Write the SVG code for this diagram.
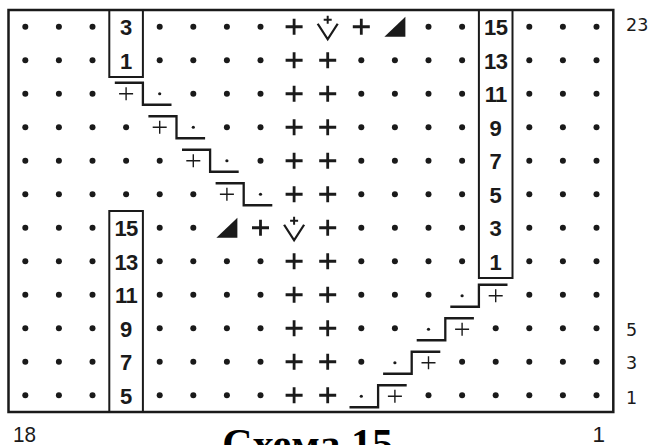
<svg xmlns="http://www.w3.org/2000/svg" width="653" height="445" viewBox="0 0 653 445">
<style>
.ink{fill:#1a1a1a}
.ln{fill:none;stroke:#1a1a1a;stroke-linecap:butt}
.frame{fill:none;stroke:#1a1a1a;stroke-width:2.5}
.box{fill:none;stroke:#1a1a1a;stroke-width:2}
.step{fill:none;stroke:#1a1a1a;stroke-width:2.3}
.num{font-family:"Liberation Sans",Arial,sans-serif;font-weight:bold;font-size:22px;fill:#1a1a1a;text-anchor:middle}
.num2{letter-spacing:-0.6px}
.lbl{font-family:"DejaVu Sans","Liberation Sans",sans-serif;font-size:17.5px;fill:#1a1a1a}
.blbl{font-family:"Liberation Sans",Arial,sans-serif;font-size:22.5px;fill:#1a1a1a}
.title{font-family:"Liberation Serif","Times New Roman",serif;font-weight:bold;font-size:42px;fill:#000;text-anchor:middle}
</style>
<defs>
<circle id="d" class="ink" r="3"/>
<circle id="sd" class="ink" r="1.6"/>
<path id="p" class="ln" stroke-width="2.8" d="M-8.5 0H8.5M0 -8V8"/>
<path id="sp" class="ln" stroke-width="1.4" d="M-7 0H7M0 -6.5V6.5"/>
<g id="v"><path class="ln" stroke-width="2.3" stroke-linejoin="miter" d="M-10 -3L0 12.5L10 -3"/><path class="ln" stroke-width="2" d="M-4 -7H4M0 -11V-3"/></g>
<path id="t" class="ink" d="M-10.5 10H10.5V-10Z"/>
</defs>
<rect width="653" height="445" fill="#fff"/>
<rect class="frame" x="8.5" y="10" width="604.8" height="402"/>
<g id="boxes">
<rect class="box" x="109.3" y="10" width="33.6" height="67"/>
<rect class="box" x="109.3" y="211" width="33.6" height="201"/>
<rect class="box" x="478.9" y="10" width="33.6" height="268"/>
</g>
<g id="steps">
<polyline class="step" points="114.8,82.75 142.9,82.75 142.9,104.75 171.5,104.75"/>
<polyline class="step" points="148.4,116.25 176.5,116.25 176.5,138.25 205.1,138.25"/>
<polyline class="step" points="182,149.75 210.1,149.75 210.1,171.75 238.7,171.75"/>
<polyline class="step" points="215.6,183.25 243.7,183.25 243.7,205.25 272.3,205.25"/>
<polyline class="step" points="507.5,284.75 478.9,284.75 478.9,306.75 450.3,306.75"/>
<polyline class="step" points="473.9,318.25 445.3,318.25 445.3,340.25 416.7,340.25"/>
<polyline class="step" points="440.3,351.75 411.7,351.75 411.7,373.75 383.1,373.75"/>
<polyline class="step" points="406.7,385.25 378.1,385.25 378.1,407.25 349.5,407.25"/>
</g>
<g id="row0" transform="translate(0,26.75)">
<use href="#d" x="25.3"/><use href="#d" x="58.9"/><use href="#d" x="92.5"/><text class="num" x="126.1" y="8.3">3</text><use href="#d" x="159.7"/><use href="#d" x="193.3"/><use href="#d" x="226.9"/><use href="#d" x="260.5"/><use href="#p" x="294.1"/><use href="#v" x="327.7"/><use href="#p" x="361.3"/><use href="#t" x="394.9"/><use href="#d" x="428.5"/><use href="#d" x="462.1"/><text class="num num2" x="495.7" y="8.3">15</text><use href="#d" x="529.3"/><use href="#d" x="562.9"/><use href="#d" x="596.5"/>
</g>
<g id="row1" transform="translate(0,60.25)">
<use href="#d" x="25.3"/><use href="#d" x="58.9"/><use href="#d" x="92.5"/><text class="num" x="126.1" y="8.3">1</text><use href="#d" x="159.7"/><use href="#d" x="193.3"/><use href="#d" x="226.9"/><use href="#d" x="260.5"/><use href="#p" x="294.1"/><use href="#p" x="327.7"/><use href="#d" x="361.3"/><use href="#d" x="394.9"/><use href="#d" x="428.5"/><use href="#d" x="462.1"/><text class="num num2" x="495.7" y="8.3">13</text><use href="#d" x="529.3"/><use href="#d" x="562.9"/><use href="#d" x="596.5"/>
</g>
<g id="row2" transform="translate(0,93.75)">
<use href="#d" x="25.3"/><use href="#d" x="58.9"/><use href="#d" x="92.5"/><use href="#sp" x="126.1"/><use href="#sd" x="159.7"/><use href="#d" x="193.3"/><use href="#d" x="226.9"/><use href="#d" x="260.5"/><use href="#p" x="294.1"/><use href="#p" x="327.7"/><use href="#d" x="361.3"/><use href="#d" x="394.9"/><use href="#d" x="428.5"/><use href="#d" x="462.1"/><text class="num num2" x="495.7" y="8.3">11</text><use href="#d" x="529.3"/><use href="#d" x="562.9"/><use href="#d" x="596.5"/>
</g>
<g id="row3" transform="translate(0,127.25)">
<use href="#d" x="25.3"/><use href="#d" x="58.9"/><use href="#d" x="92.5"/><use href="#d" x="126.1"/><use href="#sp" x="159.7"/><use href="#sd" x="193.3"/><use href="#d" x="226.9"/><use href="#d" x="260.5"/><use href="#p" x="294.1"/><use href="#p" x="327.7"/><use href="#d" x="361.3"/><use href="#d" x="394.9"/><use href="#d" x="428.5"/><use href="#d" x="462.1"/><text class="num" x="495.7" y="8.3">9</text><use href="#d" x="529.3"/><use href="#d" x="562.9"/><use href="#d" x="596.5"/>
</g>
<g id="row4" transform="translate(0,160.75)">
<use href="#d" x="25.3"/><use href="#d" x="58.9"/><use href="#d" x="92.5"/><use href="#d" x="126.1"/><use href="#d" x="159.7"/><use href="#sp" x="193.3"/><use href="#sd" x="226.9"/><use href="#d" x="260.5"/><use href="#p" x="294.1"/><use href="#p" x="327.7"/><use href="#d" x="361.3"/><use href="#d" x="394.9"/><use href="#d" x="428.5"/><use href="#d" x="462.1"/><text class="num" x="495.7" y="8.3">7</text><use href="#d" x="529.3"/><use href="#d" x="562.9"/><use href="#d" x="596.5"/>
</g>
<g id="row5" transform="translate(0,194.25)">
<use href="#d" x="25.3"/><use href="#d" x="58.9"/><use href="#d" x="92.5"/><use href="#d" x="126.1"/><use href="#d" x="159.7"/><use href="#d" x="193.3"/><use href="#sp" x="226.9"/><use href="#sd" x="260.5"/><use href="#p" x="294.1"/><use href="#p" x="327.7"/><use href="#d" x="361.3"/><use href="#d" x="394.9"/><use href="#d" x="428.5"/><use href="#d" x="462.1"/><text class="num" x="495.7" y="8.3">5</text><use href="#d" x="529.3"/><use href="#d" x="562.9"/><use href="#d" x="596.5"/>
</g>
<g id="row6" transform="translate(0,227.75)">
<use href="#d" x="25.3"/><use href="#d" x="58.9"/><use href="#d" x="92.5"/><text class="num num2" x="126.1" y="8.3">15</text><use href="#d" x="159.7"/><use href="#d" x="193.3"/><use href="#t" x="226.9"/><use href="#p" x="260.5"/><use href="#v" x="294.1"/><use href="#p" x="327.7"/><use href="#d" x="361.3"/><use href="#d" x="394.9"/><use href="#d" x="428.5"/><use href="#d" x="462.1"/><text class="num" x="495.7" y="8.3">3</text><use href="#d" x="529.3"/><use href="#d" x="562.9"/><use href="#d" x="596.5"/>
</g>
<g id="row7" transform="translate(0,261.25)">
<use href="#d" x="25.3"/><use href="#d" x="58.9"/><use href="#d" x="92.5"/><text class="num num2" x="126.1" y="8.3">13</text><use href="#d" x="159.7"/><use href="#d" x="193.3"/><use href="#d" x="226.9"/><use href="#d" x="260.5"/><use href="#p" x="294.1"/><use href="#p" x="327.7"/><use href="#d" x="361.3"/><use href="#d" x="394.9"/><use href="#d" x="428.5"/><use href="#d" x="462.1"/><text class="num" x="495.7" y="8.3">1</text><use href="#d" x="529.3"/><use href="#d" x="562.9"/><use href="#d" x="596.5"/>
</g>
<g id="row8" transform="translate(0,294.75)">
<use href="#d" x="25.3"/><use href="#d" x="58.9"/><use href="#d" x="92.5"/><text class="num num2" x="126.1" y="8.3">11</text><use href="#d" x="159.7"/><use href="#d" x="193.3"/><use href="#d" x="226.9"/><use href="#d" x="260.5"/><use href="#p" x="294.1"/><use href="#p" x="327.7"/><use href="#d" x="361.3"/><use href="#d" x="394.9"/><use href="#d" x="428.5"/><use href="#sd" x="462.1" y="1"/><use href="#sp" x="495.7" y="1"/><use href="#d" x="529.3"/><use href="#d" x="562.9"/><use href="#d" x="596.5"/>
</g>
<g id="row9" transform="translate(0,328.25)">
<use href="#d" x="25.3"/><use href="#d" x="58.9"/><use href="#d" x="92.5"/><text class="num" x="126.1" y="8.3">9</text><use href="#d" x="159.7"/><use href="#d" x="193.3"/><use href="#d" x="226.9"/><use href="#d" x="260.5"/><use href="#p" x="294.1"/><use href="#p" x="327.7"/><use href="#d" x="361.3"/><use href="#d" x="394.9"/><use href="#sd" x="428.5" y="1"/><use href="#sp" x="462.1" y="1"/><use href="#d" x="495.7"/><use href="#d" x="529.3"/><use href="#d" x="562.9"/><use href="#d" x="596.5"/>
</g>
<g id="row10" transform="translate(0,361.75)">
<use href="#d" x="25.3"/><use href="#d" x="58.9"/><use href="#d" x="92.5"/><text class="num" x="126.1" y="8.3">7</text><use href="#d" x="159.7"/><use href="#d" x="193.3"/><use href="#d" x="226.9"/><use href="#d" x="260.5"/><use href="#p" x="294.1"/><use href="#p" x="327.7"/><use href="#d" x="361.3"/><use href="#sd" x="394.9" y="1"/><use href="#sp" x="428.5" y="1"/><use href="#d" x="462.1"/><use href="#d" x="495.7"/><use href="#d" x="529.3"/><use href="#d" x="562.9"/><use href="#d" x="596.5"/>
</g>
<g id="row11" transform="translate(0,395.25)">
<use href="#d" x="25.3"/><use href="#d" x="58.9"/><use href="#d" x="92.5"/><text class="num" x="126.1" y="8.3">5</text><use href="#d" x="159.7"/><use href="#d" x="193.3"/><use href="#d" x="226.9"/><use href="#d" x="260.5"/><use href="#p" x="294.1"/><use href="#p" x="327.7"/><use href="#sd" x="361.3" y="1"/><use href="#sp" x="394.9" y="1"/><use href="#d" x="428.5"/><use href="#d" x="462.1"/><use href="#d" x="495.7"/><use href="#d" x="529.3"/><use href="#d" x="562.9"/><use href="#d" x="596.5"/>
</g>
<g id="labels">
<text class="lbl" x="626" y="30.7">23</text>
<text class="lbl" x="626" y="335.7">5</text>
<text class="lbl" x="626" y="369.3">3</text>
<text class="lbl" x="626" y="403.5">1</text>
<text class="blbl" x="13" y="442.3" textLength="23" lengthAdjust="spacingAndGlyphs">18</text>
<text class="blbl" x="592.6" y="442.3">1</text>
<text class="title" x="307.7" y="458">Схема 15</text>
</g>
</svg>
